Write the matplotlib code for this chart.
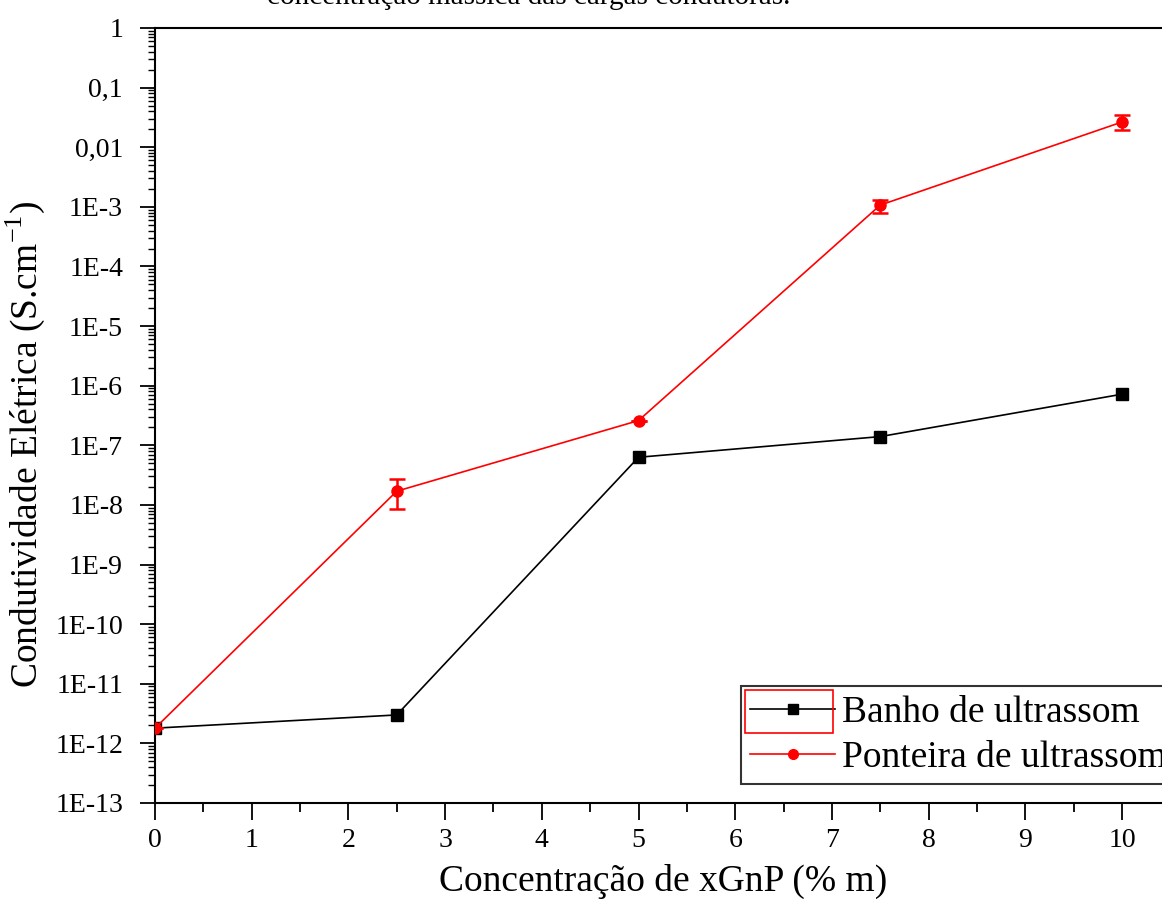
import numpy as np
import matplotlib.pyplot as plt
from matplotlib.ticker import FixedLocator, LogLocator, MultipleLocator, FuncFormatter
from matplotlib.patches import Rectangle
from matplotlib.lines import Line2D

# data
conc = [0, 2.5, 5, 7.5, 10]
banho = [1.8e-12, 3.0e-12, 6.3e-8, 1.4e-7, 7.2e-7]
ponteira = [1.8e-12, 1.7e-8, 2.6e-7, 1.07e-3, 0.0265]
ponteira_err_low = [0, 8.5e-9, 0, 2.8e-4, 0.007]
ponteira_err_high = [0, 1.0e-8, 0, 2.3e-4, 0.0082]

ytick_vals = [10.0 ** e for e in range(0, -14, -1)]
ytick_labels = ["1", "0,1", "0,01"] + ["1E-%d" % e for e in range(3, 14)]

plt.rcParams['font.family'] = ['Liberation Serif', 'DejaVu Serif']
plt.rcParams['mathtext.fontset'] = 'custom'
plt.rcParams['mathtext.rm'] = 'Liberation Serif'

W, H = 1162, 901
fig = plt.figure(figsize=(W / 100, H / 100), dpi=100)

x_right = 10.5
left, right_px = 155, 155 + x_right * 96.7
ax = fig.add_axes([left / W, 1 - 803 / H, (right_px - left) / W, (803 - 28) / H])

ax.plot(conc, banho, color='black', lw=1.2, marker='s', ms=8, zorder=3)
ax.errorbar(conc, ponteira, yerr=[ponteira_err_low, ponteira_err_high], color='red', lw=1.2,
            marker='o', ms=8, capsize=6, elinewidth=1.8, capthick=1.8, zorder=4)

ax.set_yscale('log')
ax.set_ylim(1e-13, 1)
ax.set_xlim(0, x_right)

ax.yaxis.set_major_locator(FixedLocator(ytick_vals))
ax.yaxis.set_major_formatter(FuncFormatter(lambda v, p: ytick_labels[int(round(-np.log10(v)))]))
ax.yaxis.set_minor_locator(LogLocator(base=10, subs=np.arange(2, 10), numticks=100))
ax.yaxis.set_minor_formatter(FuncFormatter(lambda v, p: ""))
ax.xaxis.set_major_locator(MultipleLocator(1))
ax.xaxis.set_minor_locator(MultipleLocator(0.5))

ax.tick_params(axis='y', which='major', direction='out', length=11, width=1.3, labelsize=20, pad=12)
ax.tick_params(axis='y', which='minor', direction='out', length=5, width=1.0)
ax.tick_params(axis='x', which='major', direction='out', length=12, width=1.3, labelsize=20, pad=6)
ax.tick_params(axis='x', which='minor', direction='out', length=6.5, width=1.3)
for s in ax.spines.values():
    s.set_linewidth(1.5)

ax.set_xlabel('Concentração de xGnP (% m)', fontsize=27, labelpad=8)
ax.set_ylabel('Condutividade Elétrica (S.cm$^{-1}$)', fontsize=27)
ax.yaxis.set_label_coords(-0.106, 0.463)

handles = [Line2D([], [], color='black', lw=1.2, marker='s', ms=7),
           Line2D([], [], color='red', lw=1.2, marker='o', ms=7)]
labels = ['Banho de ultrassom', 'Ponteira de ultrassom']
leg = ax.legend(handles, labels, loc='upper left', bbox_to_anchor=(741 / W, 1 - 686 / H),
                bbox_transform=fig.transFigure, fontsize=27, frameon=True, fancybox=False,
                edgecolor='black', handlelength=2.25, handletextpad=0.2, borderpad=0.25,
                labelspacing=0.28, borderaxespad=0)
leg.get_frame().set_linewidth(1.5)

# red selection box around first legend handle (as in the original)
fig.patches.append(Rectangle((745 / W, 1 - 733 / H), 88 / W, 43 / H, transform=fig.transFigure,
                             fill=False, edgecolor='red', lw=1.2, zorder=10))

fig.text(267 / W, 1 - 4 / H, 'concentração mássica das cargas condutoras.', fontsize=21,
         ha='left', va='baseline')

fig.savefig('out.png', dpi=100)
